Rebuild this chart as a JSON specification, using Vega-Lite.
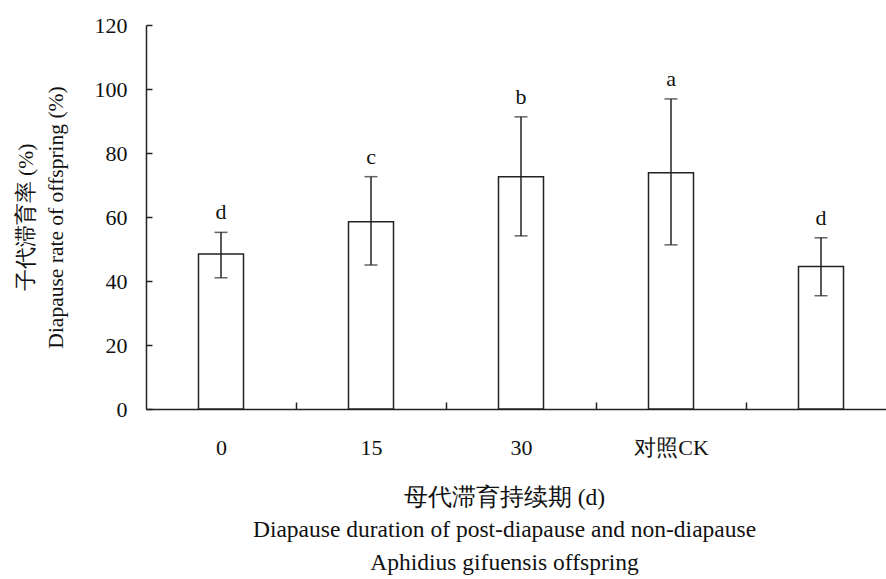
{
  "$schema": "https://vega.github.io/schema/vega-lite/v6.json",
  "autosize": {"type": "none"},
  "padding": {"left": 146, "top": 25, "right": 0, "bottom": 170},
  "width": 740,
  "height": 384,
  "background": "white",
  "config": {
    "font": "Liberation Serif",
    "view": {"stroke": null},
    "axis": {
      "grid": false,
      "domainColor": "#222",
      "tickColor": "#222",
      "labelColor": "#111",
      "titleColor": "#111",
      "domainWidth": 1.5,
      "tickWidth": 1.5,
      "labelFontSize": 22,
      "titleFontSize": 22,
      "titleFontWeight": "normal",
      "labelFont": "Liberation Serif",
      "titleFont": "Liberation Serif"
    }
  },
  "data": {
    "values": [
      {"group": "0", "mean": 48.4, "lo": 41.0, "hi": 55.2, "sig": "d"},
      {"group": "15", "mean": 58.5, "lo": 45.0, "hi": 72.6, "sig": "c"},
      {"group": "30", "mean": 72.6, "lo": 54.1, "hi": 91.3, "sig": "b"},
      {"group": "对照CK", "mean": 73.8, "lo": 51.3, "hi": 96.9, "sig": "a"},
      {"group": "", "mean": 44.5, "lo": 35.4, "hi": 53.5, "sig": "d"}
    ]
  },
  "encoding": {
    "x": {
      "field": "group",
      "type": "nominal",
      "sort": ["0", "15", "30", "对照CK", ""],
      "scale": {"range": [0, 750], "paddingInner": 0.7, "paddingOuter": 0.35},
      "axis": {
        "labelAngle": 0,
        "tickSize": -7,
        "tickOffset": 75,
        "labelOffset": -75,
        "labelPadding": 35,
        "title": ["母代滞育持续期 (d)", "Diapause duration of post-diapause and non-diapause", "Aphidius gifuensis offspring"],
        "titleFontSize": 23.5,
        "titleLineHeight": 32.5,
        "titlePadding": 27,
        "titleX": 358
      }
    }
  },
  "layer": [
    {
      "mark": {"type": "bar", "fill": "white", "stroke": "#222", "strokeWidth": 1.5},
      "encoding": {
        "y": {
          "field": "mean",
          "type": "quantitative",
          "scale": {"domain": [0, 120], "nice": false},
          "axis": {
            "values": [0, 20, 40, 60, 80, 100, 120],
            "tickSize": -6,
            "labelPadding": 25,
            "title": ["子代滞育率 (%)", "Diapause rate of offspring (%)"],
            "titleFontSize": 21.5,
            "titleLineHeight": 30,
            "titlePadding": 27
          }
        }
      }
    },
    {
      "mark": {"type": "rule", "color": "#222", "strokeWidth": 1.5},
      "encoding": {
        "y": {"field": "lo", "type": "quantitative"},
        "y2": {"field": "hi"}
      }
    },
    {
      "mark": {"type": "tick", "orient": "horizontal", "size": 13, "thickness": 1.5, "color": "#222"},
      "encoding": {"y": {"field": "lo", "type": "quantitative"}}
    },
    {
      "mark": {"type": "tick", "orient": "horizontal", "size": 13, "thickness": 1.5, "color": "#222"},
      "encoding": {"y": {"field": "hi", "type": "quantitative"}}
    },
    {
      "mark": {"type": "text", "baseline": "bottom", "dy": -8, "fontSize": 22, "font": "Liberation Serif", "color": "#111"},
      "encoding": {
        "y": {"field": "hi", "type": "quantitative"},
        "text": {"field": "sig"}
      }
    }
  ]
}
